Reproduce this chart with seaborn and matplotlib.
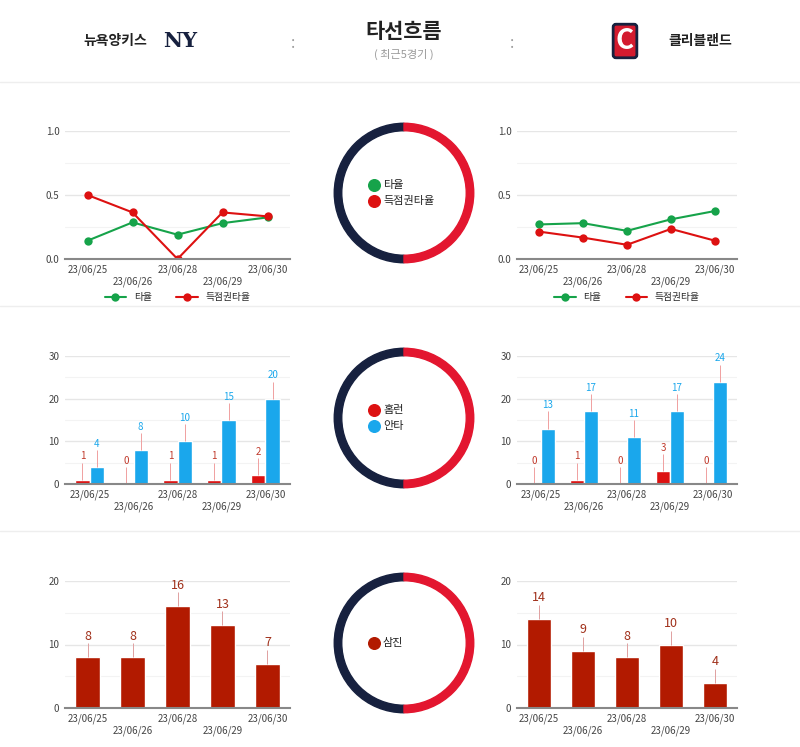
import matplotlib
matplotlib.use("Agg")
import matplotlib.pyplot as plt
import seaborn as sns
import pandas as pd
import numpy as np
from matplotlib.patches import Wedge, Rectangle

sns.set_theme(style="white")
plt.rcParams['font.family'] = ['Noto Sans CJK KR', 'DejaVu Sans']

dates = ["23/06/25", "23/06/26", "23/06/28", "23/06/29", "23/06/30"]
nyy_avg = [0.143, 0.286, 0.190, 0.280, 0.325]
nyy_risp = [0.500, 0.364, 0.000, 0.364, 0.333]
cle_avg = [0.270, 0.280, 0.220, 0.310, 0.375]
cle_risp = [0.214, 0.167, 0.111, 0.235, 0.143]
nyy_hr = [1, 0, 1, 1, 2]
nyy_hits = [4, 8, 10, 15, 20]
cle_hr = [0, 1, 0, 3, 0]
cle_hits = [13, 17, 11, 17, 24]
nyy_so = [8, 8, 16, 13, 7]
cle_so = [14, 9, 8, 10, 4]

W, H = 800, 747
fig = plt.figure(figsize=(8, 7.47), dpi=100)
fig.patch.set_facecolor("white")

def ax_px(l, t, r, b):
    return fig.add_axes([l / W, 1 - b / H, (r - l) / W, (b - t) / H])

GREEN, RED, BLUE, NAVY, CRED, BRICK = "#16a34a", "#dd1111", "#1aa7ec", "#17213f", "#e3162f", "#b21a00"

def style(ax, ymax, step):
    ax.set_ylim(0, ymax)
    ax.set_yticks(np.arange(0, ymax + 1e-9, step))
    for s in ["top", "right", "left"]:
        ax.spines[s].set_visible(False)
    ax.spines["bottom"].set_color("#888888")
    ax.spines["bottom"].set_linewidth(1.5)
    ax.grid(axis="y", color="#e6e6e6", linewidth=1)
    for y in np.arange(step / 2, ymax, step):
        ax.axhline(y, color="#f3f3f3", linewidth=0.8, zorder=0)
    ax.set_axisbelow(True)
    ax.tick_params(axis="both", length=0, labelsize=7, colors="#444444", pad=4)
    ax.set_xlabel(""); ax.set_ylabel("")
    ax.set_xticks(range(5))
    ax.set_xticklabels([d if i % 2 == 0 else "\n" + d for i, d in enumerate(dates)])

def line_chart(ax, avg, risp):
    df = pd.DataFrame({"x": list(range(5)) * 2, "v": avg + risp,
                       "s": ["타율"] * 5 + ["득점권타율"] * 5})
    sns.lineplot(data=df, x="x", y="v", hue="s", palette=[GREEN, RED], marker="o",
                 markersize=6, markeredgewidth=0, linewidth=1.5, ax=ax)
    style(ax, 1.0, 0.5)
    ax.set_yticklabels(["0.0", "0.5", "1.0"])
    ax.set_xlim(-0.5, 4.5)
    ax.legend(loc="upper center", bbox_to_anchor=(0.5, -0.19), ncol=2, frameon=False,
              fontsize=7, handlelength=2.2, columnspacing=2.5)

def bar_chart(ax, hr, hits):
    df = pd.DataFrame({"x": list(range(5)) * 2, "v": hr + hits,
                       "s": ["홈런"] * 5 + ["안타"] * 5})
    sns.barplot(data=df, x="x", y="v", hue="s", palette=[RED, BLUE], width=0.65,
                ax=ax, legend=False, saturation=1)
    style(ax, 30, 10)
    for i in range(5):
        for off, val, col in [(-0.1625, hr[i], "#c0392b"), (0.1625, hits[i], BLUE)]:
            ax.vlines(i + off, val, val + 4, color="#f0a0a0" if col != BLUE else "#f0a0a0", lw=0.7)
            ax.text(i + off, val + 4.3, str(val), ha="center", va="bottom", fontsize=7, color=col)

def so_chart(ax, so):
    df = pd.DataFrame({"x": range(5), "v": so})
    sns.barplot(data=df, x="x", y="v", color=BRICK, width=0.55, ax=ax, saturation=1)
    style(ax, 20, 10)
    for i, v in enumerate(so):
        ax.vlines(i, v, v + 2.2, color="#e0a0a0", lw=0.7)
        ax.text(i, v + 2.3, str(v), ha="center", va="bottom", fontsize=9, color="#a0301a")

def donut(cy, items):
    ax = ax_px(404 - 75, cy - 75, 404 + 75, cy + 75)
    ax.set_xlim(-1, 1); ax.set_ylim(-1, 1); ax.axis("off")
    ax.add_patch(Wedge((0, 0), 0.93, 90, 270, width=0.1, color=NAVY))
    ax.add_patch(Wedge((0, 0), 0.93, -90, 90, width=0.1, color=CRED))
    n = len(items)
    for k, (lab, col) in enumerate(items):
        y = (n - 1) / 2 * 0.22 - k * 0.22
        ax.scatter([-0.4], [y], s=70, color=col)
        ax.text(-0.28, y, lab, va="center", fontsize=8, color="#222222")

# row 1
line_chart(ax_px(65, 131, 290, 259), nyy_avg, nyy_risp)
line_chart(ax_px(517, 131, 737, 259), cle_avg, cle_risp)
donut(193, [("타율", GREEN), ("득점권타율", RED)])
# row 2
bar_chart(ax_px(65, 356, 290, 484), nyy_hr, nyy_hits)
bar_chart(ax_px(517, 356, 737, 484), cle_hr, cle_hits)
donut(418, [("홈런", RED), ("안타", BLUE)])
# row 3
so_chart(ax_px(65, 581, 290, 708), nyy_so)
so_chart(ax_px(517, 581, 737, 708), cle_so)
donut(643, [("삼진", BRICK)])

# header and separators
for y in [82, 306, 531]:
    fig.add_artist(plt.Line2D([0, 1], [1 - y / H] * 2, color="#eeeeee", lw=1))
fig.text(404 / W, 1 - 32 / H, "타선흐름", ha="center", va="center", fontsize=15, fontweight="bold", color="#222222")
fig.text(404 / W, 1 - 54 / H, "( 최근5경기 )", ha="center", va="center", fontsize=8, color="#999999")
fig.text(115 / W, 1 - 41 / H, "뉴욕양키스", ha="center", va="center", fontsize=10, fontweight="bold", color="#222222")
fig.text(180 / W, 1 - 41 / H, "NY", ha="center", va="center", fontsize=15, fontweight="bold", color=NAVY, family="DejaVu Serif")
fig.text(625 / W, 1 - 41 / H, "C", ha="center", va="center", fontsize=20, fontweight="bold", color="white",
         bbox=dict(boxstyle="round,pad=0.1", fc="#d31b2f", ec=NAVY, lw=2))
fig.text(700 / W, 1 - 41 / H, "클리블랜드", ha="center", va="center", fontsize=10, fontweight="bold", color="#222222")
fig.text(293 / W, 1 - 43 / H, ":", ha="center", va="center", fontsize=11, color="#999999")
fig.text(512 / W, 1 - 43 / H, ":", ha="center", va="center", fontsize=11, color="#999999")

fig.savefig("out.png", dpi=100, facecolor="white")
